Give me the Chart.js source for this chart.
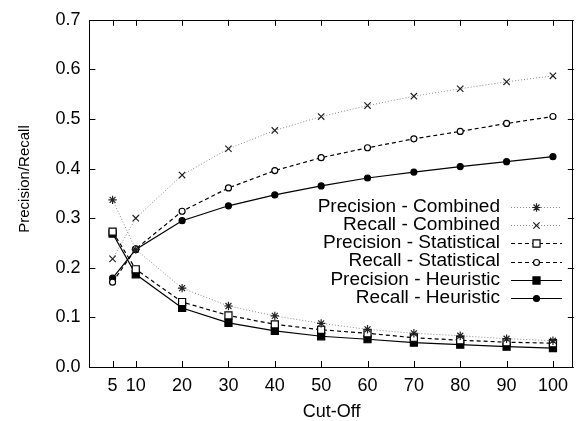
<!DOCTYPE html>
<html>
<head>
<meta charset="utf-8">
<script src="https://cdn.jsdelivr.net/npm/chart.js@4/dist/chart.umd.min.js"></script>
<style>
html,body{margin:0;padding:0;background:#fff;}
#wrap{width:580px;height:421px;position:relative;}
</style>
</head>
<body>
<div id="wrap"><canvas id="c" width="580" height="421"></canvas></div>
<script>
// ---- data ----
const cutoffs = [5, 10, 20, 30, 40, 50, 60, 70, 80, 90, 100];
const precisionCombined    = [0.337, 0.237, 0.159, 0.123, 0.103, 0.088, 0.076, 0.068, 0.063, 0.057, 0.053];
const recallCombined       = [0.218, 0.300, 0.387, 0.440, 0.477, 0.505, 0.527, 0.546, 0.561, 0.575, 0.587];
const precisionStatistical = [0.273, 0.197, 0.131, 0.104, 0.086, 0.075, 0.068, 0.059, 0.054, 0.050, 0.048];
const recallStatistical    = [0.171, 0.238, 0.314, 0.361, 0.396, 0.422, 0.442, 0.460, 0.475, 0.491, 0.505];
const precisionHeuristic   = [0.269, 0.187, 0.119, 0.089, 0.073, 0.062, 0.056, 0.049, 0.045, 0.041, 0.038];
const recallHeuristic      = [0.179, 0.237, 0.295, 0.325, 0.347, 0.365, 0.381, 0.393, 0.404, 0.414, 0.424];
const yTicks = [0, 0.1, 0.2, 0.3, 0.4, 0.5, 0.6, 0.7];
const seriesNames = ['Precision - Combined','Recall - Combined','Precision - Statistical','Recall - Statistical','Precision - Heuristic','Recall - Heuristic'];
const xTitle = 'Cut-Off';
const yTitle = 'Precision/Recall';

const FONT = "'Liberation Sans', Arial, Helvetica, sans-serif";
const toPts = arr => cutoffs.map((c, i) => ({x: c, y: arr[i]}));

const styles = [
  {line:'#8a8a8a', dash:[1,2], point:'star',     r:4.2, fill:'#222', stroke:'#222', w:1},
  {line:'#8a8a8a', dash:[1,2], point:'crossRot', r:4.5, fill:'#222', stroke:'#222', w:1},
  {line:'#000',    dash:[4,3], point:'rect',     r:5,   fill:'#fff', stroke:'#000', w:1.2},
  {line:'#000',    dash:[4,3], point:'circle',   r:3,   fill:'#fff', stroke:'#000', w:1.2},
  {line:'#000',    dash:[],    point:'rect',     r:5,   fill:'#000', stroke:'#000', w:1.2},
  {line:'#000',    dash:[],    point:'circle',   r:3,   fill:'#000', stroke:'#000', w:1.2}
];
const seriesData = [precisionCombined, recallCombined, precisionStatistical, recallStatistical, precisionHeuristic, recallHeuristic];

const datasets = seriesData.map((d, i) => ({
  label: seriesNames[i],
  data: toPts(d),
  borderColor: styles[i].line,
  borderWidth: styles[i].w,
  borderDash: styles[i].dash,
  pointStyle: styles[i].point,
  pointRadius: styles[i].r,
  pointBackgroundColor: styles[i].fill,
  pointBorderColor: styles[i].stroke,
  pointBorderWidth: 1.2,
  tension: 0,
  fill: false
}));

// frame + inward ticks + legend + y title
const framePlugin = {
  id: 'frame',
  afterDatasetsDraw(chart) {
    const ctx = chart.ctx, a = chart.chartArea;
    const xs = chart.scales.x, ys = chart.scales.y;
    ctx.save();
    ctx.strokeStyle = '#000';
    ctx.lineWidth = 1;
    ctx.setLineDash([]);
    ctx.strokeRect(Math.round(a.left) + 0.5, Math.round(a.top) + 0.5, Math.round(a.right - a.left) - 1, Math.round(a.bottom - a.top));
    const tl = 6;
    ctx.beginPath();
    cutoffs.forEach(v => {
      const px = Math.round(xs.getPixelForValue(v)) + 0.5;
      ctx.moveTo(px, a.bottom); ctx.lineTo(px, a.bottom - tl);
      ctx.moveTo(px, a.top); ctx.lineTo(px, a.top + tl);
    });
    yTicks.forEach(v => {
      const py = Math.round(ys.getPixelForValue(v)) + 0.5;
      ctx.moveTo(a.left, py); ctx.lineTo(a.left + tl, py);
      ctx.moveTo(a.right, py); ctx.lineTo(a.right - tl, py);
    });
    ctx.stroke();

    // y axis title
    ctx.save();
    ctx.font = '15px ' + FONT;
    ctx.fillStyle = '#000';
    ctx.textAlign = 'center';
    ctx.textBaseline = 'middle';
    ctx.translate(25, 179);
    ctx.rotate(-Math.PI / 2);
    ctx.fillText(yTitle, 0, 0);
    ctx.restore();

    // legend
    const textRight = 500, lx0 = 511, lx1 = 562, mx = 536.5;
    const y0 = 206.7, step = 18.3, sx = 1.09;
    ctx.textAlign = 'right';
    ctx.textBaseline = 'middle';
    seriesNames.forEach((name, i) => {
      const y = y0 + i * step;
      const s = styles[i];
      ctx.save();
      ctx.font = '17.5px ' + FONT;
      ctx.fillStyle = '#000';
      ctx.translate(textRight, y);
      ctx.scale(sx, 1);
      ctx.fillText(name, 0, 0);
      ctx.restore();
      ctx.strokeStyle = s.line;
      ctx.lineWidth = s.w;
      ctx.setLineDash(s.dash);
      ctx.beginPath();
      ctx.moveTo(lx0, Math.round(y) + 0.5);
      ctx.lineTo(lx1, Math.round(y) + 0.5);
      ctx.stroke();
      ctx.setLineDash([]);
      ctx.fillStyle = s.fill;
      ctx.strokeStyle = s.stroke;
      ctx.lineWidth = 1.2;
      Chart.helpers.drawPoint(ctx, {pointStyle: s.point, radius: s.r, rotation: 0, borderWidth: 1.2}, mx, Math.round(y) + 0.5);
    });
    ctx.restore();
  }
};

new Chart(document.getElementById('c'), {
  type: 'line',
  data: { datasets },
  plugins: [framePlugin],
  options: {
    responsive: false,
    animation: false,
    devicePixelRatio: 1,
    layout: { padding: { top: 18, right: 0, bottom: 0, left: 0 } },
    plugins: { legend: { display: false }, tooltip: { enabled: false } },
    scales: {
      x: {
        type: 'linear',
        min: 0, max: 104.5,
        afterBuildTicks: s => { s.ticks = cutoffs.map(v => ({value: v})); },
        afterFit: s => { s.height = 54; },
        grid: { display: false, drawTicks: false },
        border: { display: false },
        ticks: { color: '#000', font: { family: FONT, size: 18 }, padding: 8, autoSkip: false, maxRotation: 0 },
        title: { display: true, text: xTitle, color: '#000', font: { family: FONT, size: 18 }, padding: { top: 0, bottom: -2 } }
      },
      y: {
        min: 0, max: 0.7,
        afterBuildTicks: s => { s.ticks = yTicks.map(v => ({value: v})); },
        afterFit: s => { s.width = 89.4; },
        grid: { display: false, drawTicks: false },
        border: { display: false },
        ticks: { color: '#000', font: { family: FONT, size: 18 }, padding: 9, callback: v => Number(v).toFixed(1) },
        title: { display: false }
      }
    }
  }
});
</script>
</body>
</html>
